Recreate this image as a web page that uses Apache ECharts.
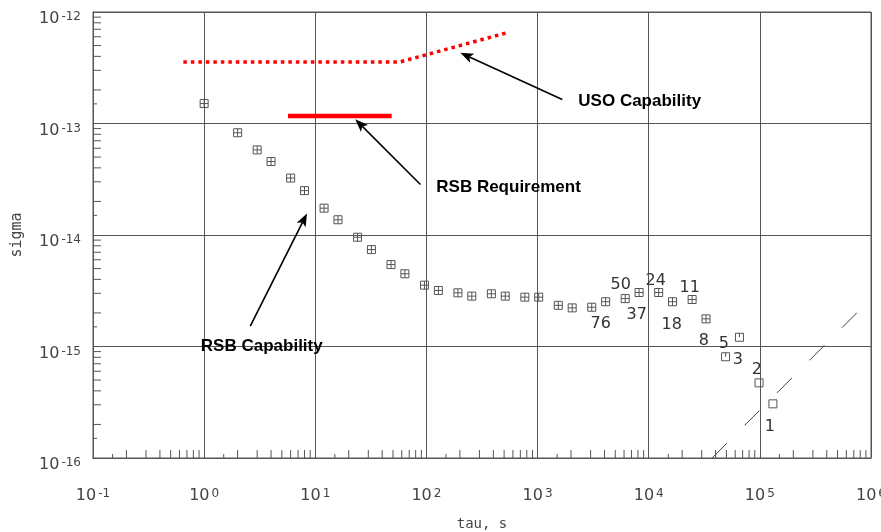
<!DOCTYPE html>
<html><head><meta charset="utf-8">
<script src="https://cdn.jsdelivr.net/npm/echarts@6/dist/echarts.min.js"></script>
<style>html,body{margin:0;padding:0;background:#fff}#c{width:881px;height:532px}</style>
</head><body><div id="c"></div>
<script>
// ---- data ----
const tauValues = [1,2,3,4,6,8,12,16,24,32,48,64,96,128,192,256,384,512,768,1024,1536,2048,3072,4096,6144,8192,12288,16384,24576,32768,49152,65536,98304,131072];
const sigmaValues = [1.51e-13,8.26e-14,5.8e-14,4.56e-14,3.24e-14,2.5e-14,1.74e-14,1.37e-14,9.55e-15,7.4e-15,5.43e-15,4.49e-15,3.55e-15,3.18e-15,3.03e-15,2.83e-15,2.97e-15,2.83e-15,2.77e-15,2.77e-15,2.34e-15,2.22e-15,2.25e-15,2.52e-15,2.69e-15,3.05e-15,3.05e-15,2.52e-15,2.64e-15,1.77e-15,8.09e-16,1.21e-15,4.72e-16,3.06e-16];
const markerKinds = ['cross','cross','cross','cross','cross','cross','cross','cross','cross','cross','cross','cross','cross','cross','cross','cross','cross','cross','cross','cross','cross','cross','cross','cross','cross','cross','cross','cross','cross','cross','half','half','plain','plain'];

const countLabels = ['76','50','37','24','18','11','8','5','3','2','1'];
const countLabelTau = [3700,5600,7800,11560,16100,23400,31300,47400,63400,94000,123000];
const countLabelSigma = [1.61e-15,3.6e-15,1.94e-15,3.91e-15,1.57e-15,3.38e-15,1.13e-15,1.06e-15,7.64e-16,6.22e-16,1.92e-16];

const usoTau = [0.65, 58, 525];
const usoSigma = [3.57e-13, 3.57e-13, 6.5e-13];
const rsbReqTau = [5.68, 48.7];
const rsbReqSigma = [1.17e-13, 1.17e-13];
const slopeLineTau = [37200, 800000];
const slopeLineSigma = [1e-16, 2.15e-15];

const annotationTexts = ['USO Capability','RSB Requirement','RSB Capability'];
const annotationTau = [8300, 548, 3.30];
const annotationSigma = [1.585e-13, 2.67e-14, 1.007e-15];
const arrowTailTau = [1668, 88.3, 2.6];
const arrowTailSigma = [1.64e-13, 2.84e-14, 1.52e-15];
const arrowHeadTau = [202, 22.9, 8.42];
const arrowHeadSigma = [4.3e-13, 1.09e-13, 1.56e-14];

const xTickExponents = [-1,0,1,2,3,4,5,6];
const yTickExponents = [-16,-15,-14,-13,-12];
const minorMultipliers = [1.5,2,3,4,5,6,7,8,9];

// ---- build ----
const xMin = Math.pow(10, xTickExponents[0]), xMax = Math.pow(10, xTickExponents[xTickExponents.length-1]);
const yMin = Math.pow(10, yTickExponents[0]), yMax = Math.pow(10, yTickExponents[yTickExponents.length-1]);

const zip = (a,b) => a.map((v,i)=>[v,b[i]]);
function pointsOfKind(k){ return tauValues.map((t,i)=>[t,sigmaValues[i],markerKinds[i]]).filter(d=>d[2]===k).map(d=>[d[0],d[1]]); }

const tickData = [];
for (let i=0;i<xTickExponents.length-1;i++) minorMultipliers.forEach(m=>tickData.push([m*Math.pow(10,xTickExponents[i]), yMin, 0]));
for (let i=0;i<yTickExponents.length-1;i++) minorMultipliers.forEach(m=>tickData.push([xMin, m*Math.pow(10,yTickExponents[i]), 1]));

const arrowData = arrowTailTau.map((t,i)=>[t, arrowTailSigma[i], arrowHeadTau[i], arrowHeadSigma[i]]);

const plotFont = 'DejaVu Sans';
const expRich = {
  b:{fontFamily:plotFont,fontSize:16,color:'#444',verticalAlign:'bottom',lineHeight:16},
  s:{fontFamily:plotFont,fontSize:12,color:'#444',verticalAlign:'top',lineHeight:12,padding:[0,0,12,2]}
};
const expFmt = v => '{b|10}{s|' + Math.round(Math.log10(v)) + '}';

const markerBase = {type:'scatter', symbolSize:8, silent:true,
  itemStyle:{color:'rgba(0,0,0,0)', borderColor:'#555', borderWidth:1, opacity:1}, z:5};

const chart = echarts.init(document.getElementById('c'), null, {renderer:'canvas'});
chart.setOption({
  animation:false,
  backgroundColor:'#fff',
  grid:{left:93,right:10,top:12,bottom:74,show:true,borderColor:'#555',borderWidth:1,outerBoundsMode:'none',containLabel:false},
  xAxis:{type:'log',logBase:10,min:xMin,max:xMax,interval:1,
    name:'tau, s',nameLocation:'middle',nameGap:58,
    nameTextStyle:{fontFamily:'DejaVu Sans Mono',fontSize:14,color:'#444'},
    axisLine:{show:true,lineStyle:{color:'#555',width:1}},
    axisTick:{show:false},
    splitLine:{show:true,lineStyle:{color:'#555',width:1}},
    minorTick:{show:false},minorSplitLine:{show:false},
    axisLabel:{formatter:expFmt,rich:expRich,margin:30,showMinLabel:true,showMaxLabel:true,hideOverlap:false}
  },
  yAxis:{type:'log',logBase:10,min:yMin,max:yMax,interval:1,
    name:'sigma',nameLocation:'middle',nameGap:68,nameRotate:90,
    nameTextStyle:{fontFamily:'DejaVu Sans Mono',fontSize:15,color:'#444'},
    axisLine:{show:true,lineStyle:{color:'#555',width:1}},
    axisTick:{show:false},
    splitLine:{show:true,lineStyle:{color:'#555',width:1}},
    axisLabel:{formatter:expFmt,rich:expRich,margin:12,padding:[14,0,0,0],showMinLabel:true,showMaxLabel:true}
  },
  series:[
    {type:'custom',coordinateSystem:'cartesian2d',silent:true,data:tickData,z:3,
      renderItem:(params,api)=>{
        const x=api.value(0), y=api.value(1), kind=api.value(2);
        const v = kind===0 ? x : y;
        const mant = v/Math.pow(10,Math.floor(Math.log10(v)+1e-9));
        const len = Math.abs(mant-1.5)<0.01 ? 4 : 8;
        const p = api.coord([x,y]);
        const shape = kind===0 ? {x1:p[0],y1:p[1],x2:p[0],y2:p[1]-len} : {x1:p[0],y1:p[1],x2:p[0]+len,y2:p[1]};
        return {type:'line',shape:shape,style:{stroke:'#555',lineWidth:1}};
      }},
    Object.assign({}, markerBase, {data:pointsOfKind('cross'), symbol:'path://M0,0H8V8H0Z M4,0V8 M0,4H8'}),
    Object.assign({}, markerBase, {data:pointsOfKind('half'), symbol:'path://M0,0H8V8H0Z M4,0V4'}),
    Object.assign({}, markerBase, {data:pointsOfKind('plain'), symbol:'path://M0,0H8V8H0Z'}),
    {type:'line',data:zip(usoTau,usoSigma),showSymbol:false,silent:true,z:4,
      lineStyle:{color:'#ff0000',width:3.5,type:[3.5,4],cap:'butt'}},
    {type:'line',data:zip(rsbReqTau,rsbReqSigma),showSymbol:false,silent:true,z:4,
      lineStyle:{color:'#ff0000',width:4.5,type:'solid',cap:'butt'}},
    {type:'line',data:zip(slopeLineTau,slopeLineSigma),showSymbol:false,silent:true,z:4,
      lineStyle:{color:'#444',width:1,type:[21,25]}},
    {type:'scatter',silent:true,symbol:'circle',symbolSize:1,itemStyle:{color:'rgba(0,0,0,0)',opacity:1},z:6,
      data:countLabels.map((t,i)=>({value:[countLabelTau[i],countLabelSigma[i]],name:t})),
      label:{show:true,position:'inside',formatter:p=>p.name,fontFamily:plotFont,fontSize:16,color:'#333',textBorderWidth:0}},
    {type:'scatter',silent:true,symbol:'circle',symbolSize:1,itemStyle:{color:'rgba(0,0,0,0)',opacity:1},z:7,
      data:annotationTexts.map((t,i)=>({value:[annotationTau[i],annotationSigma[i]],name:t})),
      label:{show:true,position:'inside',formatter:p=>p.name,fontFamily:'Liberation Sans',fontWeight:'bold',fontSize:17,color:'#000',textBorderWidth:0}},
    {type:'custom',coordinateSystem:'cartesian2d',silent:true,data:arrowData,z:7,
      encode:{x:[0,2],y:[1,3]},
      renderItem:(params,api)=>{
        const a = api.coord([api.value(0),api.value(1)]);
        const b = api.coord([api.value(2),api.value(3)]);
        const dx=b[0]-a[0], dy=b[1]-a[1], L=Math.hypot(dx,dy), ux=dx/L, uy=dy/L;
        const hl=13, hw=5, notch=3;
        const base=[b[0]-ux*hl, b[1]-uy*hl];
        const inner=[b[0]-ux*(hl-notch), b[1]-uy*(hl-notch)];
        return {type:'group',children:[
          {type:'line',shape:{x1:a[0],y1:a[1],x2:inner[0],y2:inner[1]},style:{stroke:'#000',lineWidth:1.6}},
          {type:'polygon',shape:{points:[[b[0],b[1]],[base[0]-uy*hw,base[1]+ux*hw],inner,[base[0]+uy*hw,base[1]-ux*hw]]},style:{fill:'#000'}}
        ]};
      }}
  ]
});
</script></body></html>
